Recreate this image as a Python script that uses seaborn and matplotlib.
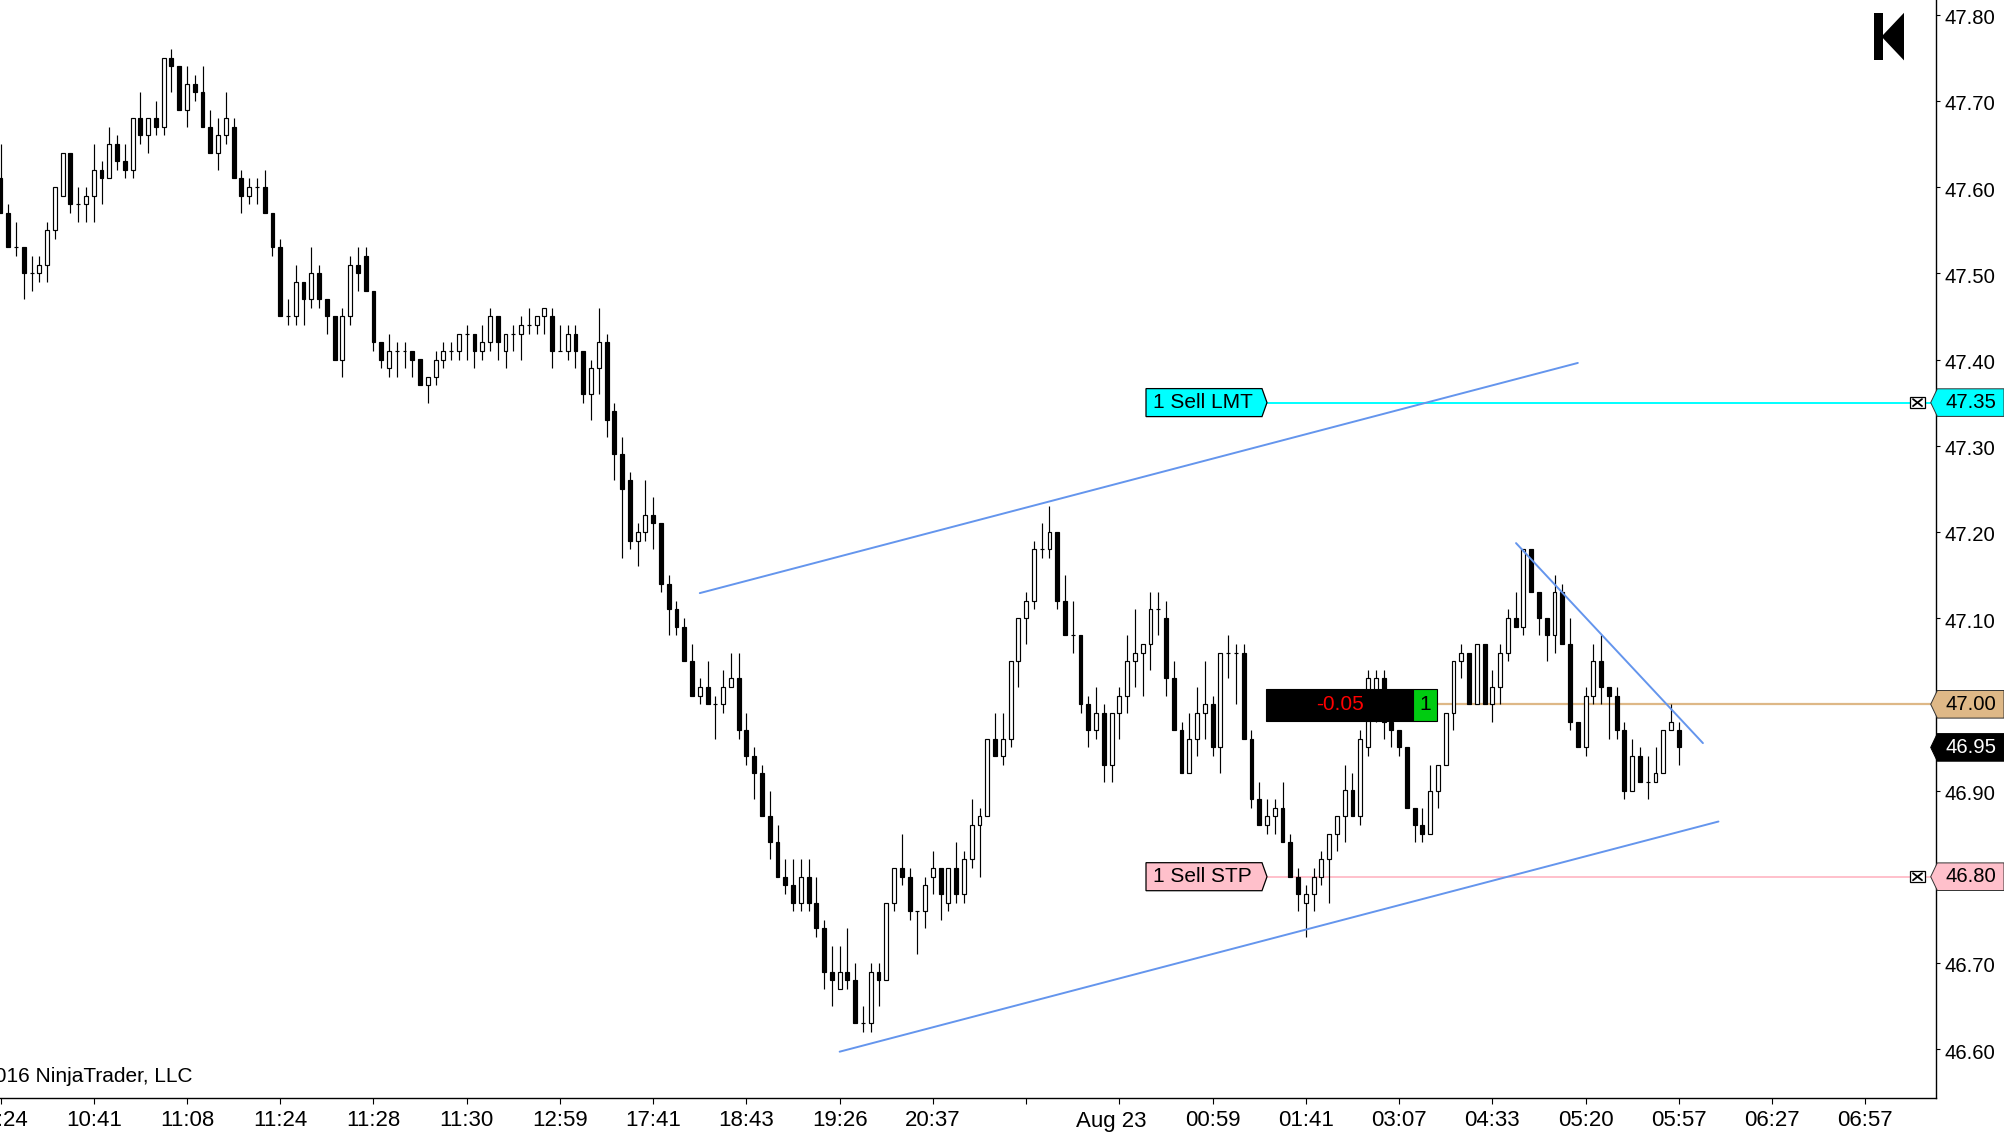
import numpy as np
import pandas as pd
import matplotlib
matplotlib.use("Agg")
import matplotlib.pyplot as plt
import seaborn as sns
from matplotlib import font_manager
from matplotlib.patches import Polygon, Rectangle
from matplotlib.transforms import blended_transform_factory, ScaledTranslation

# ---------------- data ----------------
OPEN = [47.61, 47.57, 47.53, 47.53, 47.50, 47.50, 47.51, 47.55, 47.59, 47.64,
        47.58, 47.58, 47.59, 47.62, 47.61, 47.65, 47.63, 47.62, 47.68, 47.66,
        47.68, 47.67, 47.75, 47.74, 47.69, 47.72, 47.71, 47.67, 47.64, 47.66,
        47.67, 47.61, 47.59, 47.60, 47.60, 47.57, 47.53, 47.45, 47.45, 47.49,
        47.47, 47.50, 47.47, 47.45, 47.40, 47.45, 47.51, 47.52, 47.48, 47.42,
        47.39, 47.41, 47.41, 47.41, 47.40, 47.37, 47.38, 47.40, 47.41, 47.41,
        47.43, 47.43, 47.41, 47.42, 47.45, 47.41, 47.43, 47.43, 47.44, 47.44,
        47.45, 47.45, 47.41, 47.41, 47.43, 47.41, 47.36, 47.39, 47.42, 47.34,
        47.29, 47.26, 47.19, 47.20, 47.22, 47.21, 47.14, 47.11, 47.09, 47.05,
        47.01, 47.02, 47.00, 47.00, 47.02, 47.03, 46.97, 46.94, 46.92, 46.87,
        46.84, 46.80, 46.79, 46.77, 46.80, 46.77, 46.74, 46.69, 46.67, 46.69,
        46.68, 46.63, 46.63, 46.69, 46.68, 46.77, 46.81, 46.80, 46.76, 46.76,
        46.80, 46.81, 46.77, 46.81, 46.78, 46.82, 46.86, 46.87, 46.96, 46.94,
        46.96, 47.05, 47.10, 47.12, 47.18, 47.18, 47.20, 47.12, 47.08, 47.08,
        47.00, 46.97, 46.99, 46.93, 46.99, 47.01, 47.05, 47.06, 47.07, 47.11,
        47.10, 47.03, 46.97, 46.92, 46.96, 46.99, 47.00, 46.95, 47.06, 47.06,
        47.06, 46.96, 46.89, 46.86, 46.87, 46.88, 46.84, 46.80, 46.77, 46.78,
        46.80, 46.82, 46.85, 46.87, 46.90, 46.87, 46.95, 46.99, 47.03, 46.98,
        46.97, 46.95, 46.88, 46.86, 46.85, 46.90, 46.93, 46.99, 47.05, 47.06,
        47.00, 47.07, 47.00, 47.02, 47.06, 47.10, 47.09, 47.18, 47.13, 47.10,
        47.08, 47.13, 47.07, 46.98, 46.95, 47.01, 47.05, 47.02, 47.01, 46.97,
        46.90, 46.94, 46.91, 46.91, 46.92, 46.97, 46.97]
HIGH = [47.65, 47.58, 47.56, 47.53, 47.52, 47.52, 47.56, 47.60, 47.64, 47.64,
        47.60, 47.60, 47.65, 47.63, 47.67, 47.66, 47.65, 47.68, 47.71, 47.68,
        47.70, 47.75, 47.76, 47.74, 47.74, 47.73, 47.74, 47.69, 47.68, 47.71,
        47.68, 47.62, 47.61, 47.61, 47.62, 47.57, 47.54, 47.47, 47.51, 47.49,
        47.53, 47.51, 47.47, 47.45, 47.46, 47.52, 47.53, 47.53, 47.48, 47.42,
        47.43, 47.42, 47.42, 47.41, 47.40, 47.38, 47.41, 47.42, 47.42, 47.43,
        47.44, 47.43, 47.44, 47.46, 47.45, 47.43, 47.44, 47.45, 47.46, 47.45,
        47.46, 47.46, 47.44, 47.44, 47.44, 47.41, 47.40, 47.46, 47.43, 47.35,
        47.31, 47.27, 47.21, 47.26, 47.24, 47.21, 47.15, 47.12, 47.10, 47.07,
        47.03, 47.05, 47.01, 47.04, 47.06, 47.06, 46.99, 46.95, 46.93, 46.90,
        46.86, 46.82, 46.82, 46.82, 46.82, 46.80, 46.75, 46.72, 46.72, 46.74,
        46.70, 46.65, 46.70, 46.70, 46.77, 46.81, 46.85, 46.81, 46.76, 46.80,
        46.83, 46.81, 46.81, 46.84, 46.83, 46.89, 46.88, 46.96, 46.99, 46.99,
        47.05, 47.10, 47.13, 47.19, 47.21, 47.23, 47.20, 47.15, 47.12, 47.08,
        47.01, 47.02, 47.00, 46.99, 47.02, 47.08, 47.11, 47.07, 47.13, 47.13,
        47.12, 47.05, 46.98, 46.99, 47.02, 47.05, 47.01, 47.06, 47.08, 47.07,
        47.07, 46.97, 46.91, 46.89, 46.89, 46.91, 46.85, 46.81, 46.79, 46.81,
        46.83, 46.85, 46.87, 46.93, 46.92, 46.97, 47.04, 47.04, 47.04, 46.99,
        46.97, 46.95, 46.88, 46.88, 46.93, 46.93, 46.99, 47.05, 47.07, 47.06,
        47.07, 47.07, 47.04, 47.07, 47.11, 47.13, 47.18, 47.18, 47.13, 47.10,
        47.15, 47.14, 47.10, 46.98, 47.02, 47.07, 47.08, 47.02, 47.02, 46.98,
        46.96, 46.95, 46.94, 46.95, 46.97, 47.00, 46.98]
LOW = [47.57, 47.53, 47.52, 47.47, 47.48, 47.49, 47.49, 47.54, 47.59, 47.57,
       47.56, 47.56, 47.56, 47.58, 47.61, 47.62, 47.61, 47.61, 47.65, 47.64,
       47.66, 47.66, 47.71, 47.69, 47.67, 47.70, 47.67, 47.64, 47.62, 47.65,
       47.61, 47.57, 47.58, 47.58, 47.57, 47.52, 47.45, 47.44, 47.44, 47.44,
       47.46, 47.46, 47.43, 47.40, 47.38, 47.44, 47.48, 47.48, 47.41, 47.39,
       47.38, 47.38, 47.39, 47.38, 47.37, 47.35, 47.37, 47.39, 47.40, 47.40,
       47.40, 47.39, 47.40, 47.41, 47.40, 47.39, 47.41, 47.40, 47.43, 47.43,
       47.43, 47.39, 47.41, 47.40, 47.39, 47.35, 47.33, 47.36, 47.31, 47.26,
       47.17, 47.18, 47.16, 47.19, 47.18, 47.13, 47.08, 47.08, 47.05, 47.01,
       47.00, 47.00, 46.96, 46.99, 47.02, 46.96, 46.93, 46.89, 46.87, 46.82,
       46.80, 46.78, 46.76, 46.76, 46.76, 46.73, 46.67, 46.65, 46.67, 46.67,
       46.63, 46.62, 46.62, 46.65, 46.68, 46.76, 46.79, 46.75, 46.71, 46.74,
       46.78, 46.75, 46.76, 46.77, 46.77, 46.81, 46.80, 46.87, 46.94, 46.93,
       46.95, 47.02, 47.07, 47.11, 47.17, 47.17, 47.11, 47.08, 47.06, 46.99,
       46.95, 46.96, 46.91, 46.91, 46.96, 46.99, 47.02, 47.01, 47.04, 47.08,
       47.01, 46.97, 46.92, 46.92, 46.94, 46.96, 46.94, 46.92, 47.03, 47.00,
       46.96, 46.88, 46.86, 46.85, 46.85, 46.84, 46.80, 46.76, 46.73, 46.76,
       46.79, 46.77, 46.83, 46.84, 46.87, 46.86, 46.94, 46.98, 46.96, 46.95,
       46.94, 46.88, 46.84, 46.84, 46.85, 46.88, 46.93, 46.97, 47.03, 47.00,
       47.00, 47.00, 46.98, 47.00, 47.05, 47.09, 47.08, 47.13, 47.08, 47.05,
       47.06, 47.07, 46.97, 46.95, 46.94, 47.00, 47.00, 46.96, 46.96, 46.89,
       46.90, 46.91, 46.89, 46.91, 46.92, 46.97, 46.93]
CLOSE = [47.57, 47.53, 47.53, 47.50, 47.50, 47.51, 47.55, 47.60, 47.64, 47.58,
         47.58, 47.59, 47.62, 47.61, 47.65, 47.63, 47.62, 47.68, 47.66, 47.68,
         47.67, 47.75, 47.74, 47.69, 47.72, 47.71, 47.67, 47.64, 47.66, 47.68,
         47.61, 47.59, 47.60, 47.60, 47.57, 47.53, 47.45, 47.45, 47.49, 47.47,
         47.50, 47.47, 47.45, 47.40, 47.45, 47.51, 47.50, 47.48, 47.42, 47.40,
         47.41, 47.41, 47.41, 47.40, 47.37, 47.38, 47.40, 47.41, 47.41, 47.43,
         47.43, 47.41, 47.42, 47.45, 47.42, 47.43, 47.43, 47.44, 47.44, 47.45,
         47.46, 47.41, 47.41, 47.43, 47.41, 47.36, 47.39, 47.42, 47.33, 47.29,
         47.25, 47.19, 47.20, 47.22, 47.21, 47.14, 47.11, 47.09, 47.05, 47.01,
         47.02, 47.00, 47.00, 47.02, 47.03, 46.97, 46.94, 46.92, 46.87, 46.84,
         46.80, 46.79, 46.77, 46.80, 46.77, 46.74, 46.69, 46.68, 46.69, 46.68,
         46.63, 46.63, 46.69, 46.68, 46.77, 46.81, 46.80, 46.76, 46.76, 46.79,
         46.81, 46.78, 46.81, 46.78, 46.82, 46.86, 46.87, 46.96, 46.94, 46.96,
         47.05, 47.10, 47.12, 47.18, 47.18, 47.20, 47.12, 47.08, 47.08, 47.00,
         46.97, 46.99, 46.93, 46.99, 47.01, 47.05, 47.06, 47.07, 47.11, 47.11,
         47.03, 46.97, 46.92, 46.96, 46.99, 47.00, 46.95, 47.06, 47.06, 47.06,
         46.96, 46.89, 46.86, 46.87, 46.88, 46.84, 46.80, 46.78, 46.78, 46.80,
         46.82, 46.85, 46.87, 46.90, 46.87, 46.96, 47.03, 47.03, 46.98, 46.97,
         46.95, 46.88, 46.86, 46.85, 46.90, 46.93, 46.99, 47.05, 47.06, 47.00,
         47.07, 47.00, 47.02, 47.06, 47.10, 47.09, 47.18, 47.13, 47.10, 47.08,
         47.13, 47.07, 46.98, 46.95, 47.01, 47.05, 47.02, 47.01, 46.97, 46.90,
         46.94, 46.91, 46.91, 46.92, 46.97, 46.98, 46.95]

TIME_LABELS = ["10:24", "10:41", "11:08", "11:24", "11:28", "11:30", "12:59",
               "17:41", "18:43", "19:26", "20:37", "", "Aug 23", "00:59",
               "01:41", "03:07", "04:33", "05:20", "05:57", "06:27", "06:57"]
BARS_PER_LABEL = 12
PRICE_TICKS = [46.60, 46.70, 46.80, 46.90, 47.00, 47.10, 47.20, 47.30,
               47.40, 47.50, 47.60, 47.70, 47.80]

# trend lines (bar index, price)
UPPER_X, UPPER_Y = [90.0, 203.0], [47.129, 47.396]
LOWER_X, LOWER_Y = [108.0, 221.1], [46.597, 46.864]
DOWN_X, DOWN_Y = [195.05, 219.1], [47.187, 46.955]

# orders / position
SELL_LMT_LABEL, SELL_LMT_PRICE = "1 Sell LMT", 47.35
SELL_STP_LABEL, SELL_STP_PRICE = "1 Sell STP", 46.80
POSITION_PRICE = 47.00
POSITION_PNL = "-0.05"
POSITION_QTY = "1"
LAST_PRICE = CLOSE[-1]
COPYRIGHT = "\u00a9 2016 NinjaTrader, LLC"

# ---------------- fonts ----------------
def has_font(name):
    try:
        font_manager.findfont(font_manager.FontProperties(family=name),
                              fallback_to_default=False)
        return True
    except Exception:
        return False

sns.set_style("white")
MAIN = "Liberation Sans" if has_font("Liberation Sans") else "DejaVu Sans"
NARROW = "Liberation Sans Narrow" if has_font("Liberation Sans Narrow") else MAIN
plt.rcParams["font.family"] = [MAIN, "DejaVu Sans"]

# ---------------- layout ----------------
W, H = 2004, 1134
AX_RIGHT_PX = 1936
AX_BOTTOM_PX = 1098
PX_PER_BAR = 7.77
X0_PX = 0.5
PX_PER_UNIT = 862.0
YMAX = 47.80 + 14.7 / PX_PER_UNIT
YMIN = YMAX - AX_BOTTOM_PX / PX_PER_UNIT

fig = plt.figure(figsize=(W / 100, H / 100), dpi=100)
fig.patch.set_facecolor("white")
ax = fig.add_axes([0, 1 - AX_BOTTOM_PX / H, AX_RIGHT_PX / W, AX_BOTTOM_PX / H])
ax.set_facecolor("white")

def fx(px):
    return px / W

def fy(py):
    return 1 - py / H

def dpx(px):
    return px / PX_PER_UNIT

bt = blended_transform_factory(fig.transFigure, ax.transData)

# ---------------- candles ----------------
df = pd.DataFrame({"o": OPEN, "h": HIGH, "l": LOW, "c": CLOSE})
df["i"] = np.arange(len(df))
df["bottom"] = df[["o", "c"]].min(axis=1)
df["height"] = (df["c"] - df["o"]).abs()
up = df["c"] >= df["o"]

ax.vlines(df["i"], df["l"], df["h"], color="black", linewidth=0.85, zorder=2)
ax.bar(df.loc[up, "i"], df.loc[up, "height"], bottom=df.loc[up, "bottom"],
       width=0.5, color="white", edgecolor="black", linewidth=0.85, zorder=3)
ax.bar(df.loc[~up, "i"], df.loc[~up, "height"], bottom=df.loc[~up, "bottom"],
       width=0.5, color="black", edgecolor="black", linewidth=0.85, zorder=3)

# ---------------- trend lines ----------------
for xs, ys in [(UPPER_X, UPPER_Y), (LOWER_X, LOWER_Y), (DOWN_X, DOWN_Y)]:
    sns.lineplot(x=xs, y=ys, ax=ax, color="#6495ED", linewidth=1.4,
                 legend=False, zorder=4)

# ---------------- order lines ----------------
ax.plot([fx(1266), fx(AX_RIGHT_PX)], [SELL_LMT_PRICE] * 2, transform=bt,
        color="#00FFFF", linewidth=1.4, zorder=1)
ax.plot([fx(1266), fx(AX_RIGHT_PX)], [SELL_STP_PRICE] * 2, transform=bt,
        color="#FFC0CB", linewidth=1.4, zorder=1)
ax.plot([fx(1436.7), fx(AX_RIGHT_PX)], [POSITION_PRICE] * 2, transform=bt,
        color="#DEB887", linewidth=1.6, zorder=1)

def order_tag(price, text, fill):
    hh = dpx(14)
    pts = [(fx(1146), price + hh), (fx(1262), price + hh), (fx(1267), price),
           (fx(1262), price - hh), (fx(1146), price - hh)]
    ax.add_patch(Polygon(pts, closed=True, transform=bt, facecolor=fill,
                         edgecolor="black", linewidth=0.9, zorder=6))
    ax.text(fx(1153), price, text, transform=bt, ha="left", va="center",
            fontsize=15, color="black", family=[MAIN, "DejaVu Sans"], zorder=7)

order_tag(SELL_LMT_PRICE, SELL_LMT_LABEL, "#00FFFF")
order_tag(SELL_STP_PRICE, SELL_STP_LABEL, "#FFC0CB")

# position box
pc = POSITION_PRICE - dpx(0.7)
ph = dpx(15.7)
ax.add_patch(Rectangle((fx(1266), pc - ph), fx(1412.7) - fx(1266), 2 * ph,
                       transform=bt, facecolor="black", edgecolor="black",
                       linewidth=0.8, zorder=6))
ax.add_patch(Rectangle((fx(1412.7), pc - ph), fx(1436.7) - fx(1412.7), 2 * ph,
                       transform=bt, facecolor="#00CC11", edgecolor="black",
                       linewidth=0.8, zorder=6))
ax.text(fx(1340), pc, POSITION_PNL, transform=bt, ha="center", va="center",
        fontsize=15, color="#FF0000", zorder=7)
ax.text(fx(1424.7), pc, POSITION_QTY, transform=bt, ha="center", va="center",
        fontsize=15, color="black", zorder=7)

# cancel markers
for price in [SELL_LMT_PRICE, SELL_STP_PRICE]:
    x1, x2 = fx(1910), fx(1925)
    hh = dpx(5.5)
    ax.add_patch(Rectangle((x1, price - hh), x2 - x1, 2 * hh, transform=bt,
                           facecolor="white", edgecolor="black", linewidth=0.9,
                           zorder=8, clip_on=False))
    ax.plot([fx(1913), fx(1922)], [price - dpx(3.5), price + dpx(3.5)],
            transform=bt, color="black", linewidth=1.3, zorder=9, clip_on=False)
    ax.plot([fx(1913), fx(1922)], [price + dpx(3.5), price - dpx(3.5)],
            transform=bt, color="black", linewidth=1.3, zorder=9, clip_on=False)

# ---------------- axes styling ----------------
ax.set_xlim(-X0_PX / PX_PER_BAR, (AX_RIGHT_PX - X0_PX) / PX_PER_BAR)
ax.set_ylim(YMIN, YMAX)
ax.grid(False)
for s in ["top", "left"]:
    ax.spines[s].set_visible(False)
for s in ["right", "bottom"]:
    ax.spines[s].set_visible(True)
    ax.spines[s].set_color("black")
    ax.spines[s].set_linewidth(1.0)

ax.yaxis.tick_right()
ax.set_yticks(PRICE_TICKS)
ax.set_yticklabels([f"{p:.2f}" for p in PRICE_TICKS])
ax.tick_params(axis="y", which="major", right=True, left=False, direction="out",
               length=3, width=0.8, pad=3, labelsize=14.6, colors="black")
for lbl in ax.get_yticklabels():
    lbl.set_transform(lbl.get_transform()
                      + ScaledTranslation(0, -2 / 100, fig.dpi_scale_trans))

ax.set_xticks([k * BARS_PER_LABEL for k in range(len(TIME_LABELS))])
ax.set_xticklabels(TIME_LABELS, family=[NARROW, MAIN, "DejaVu Sans"])
ax.tick_params(axis="x", which="major", bottom=True, direction="out",
               length=4, width=0.8, pad=5, labelsize=16, colors="black")
date_lbl = ax.get_xticklabels()[TIME_LABELS.index("Aug 23")]
date_lbl.set_transform(date_lbl.get_transform()
                       + ScaledTranslation(-8 / 100, 0, fig.dpi_scale_trans))
ax.set_xlabel("")
ax.set_ylabel("")

# ---------------- right-edge price flags ----------------
def price_flag(price, fill, text_color, edge):
    hh = dpx(13.8)
    pts = [(fx(1930.7), price), (fx(1937.3), price + hh), (fx(W), price + hh),
           (fx(W), price - hh), (fx(1937.3), price - hh)]
    fig.add_artist(Polygon(pts, closed=True, transform=bt, facecolor=fill,
                           edgecolor=edge, linewidth=0.7, zorder=10,
                           clip_on=False))
    t = fig.text(fx(1946), price, f"{price:.2f}", transform=bt, ha="left",
                 va="center", fontsize=14.6, color=text_color, zorder=11)
    return t

price_flag(SELL_LMT_PRICE, "#00FFFF", "black", "#333333")
price_flag(POSITION_PRICE, "#DEB887", "black", "#333333")
price_flag(LAST_PRICE, "black", "white", "black")
price_flag(SELL_STP_PRICE, "#FFC0CB", "black", "#333333")

# ---------------- top-right icon ----------------
fig.add_artist(Rectangle((fx(1873.5), fy(60.4)), fx(1882.5) - fx(1873.5),
                         fy(12.8) - fy(60.4), transform=fig.transFigure,
                         facecolor="black", edgecolor="none", zorder=12))
fig.add_artist(Polygon([(fx(1881.5), fy(36.6)), (fx(1904), fy(12.8)),
                        (fx(1904), fy(60.4))], closed=True,
                       transform=fig.transFigure, facecolor="black",
                       edgecolor="none", zorder=12))

# ---------------- copyright ----------------
fig.text(fx(193), fy(1077), COPYRIGHT, ha="right", va="center", fontsize=15,
         color="black", family=[NARROW, MAIN, "DejaVu Sans"])

fig.savefig("out.png", dpi=100, facecolor="white")
